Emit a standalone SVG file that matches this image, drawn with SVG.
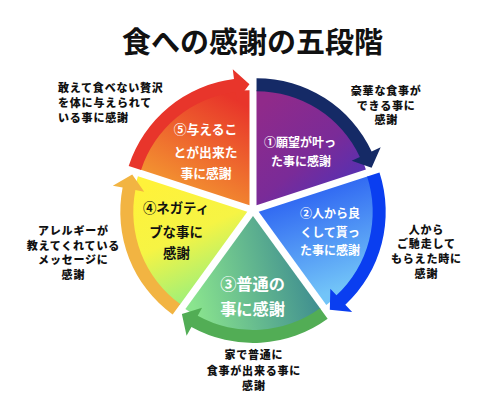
<svg xmlns="http://www.w3.org/2000/svg" width="500" height="401" viewBox="0 0 500 401">
<style>
.t{font-family:"Noto Sans CJK JP","Noto Sans CJK SC",sans-serif;font-weight:700;text-anchor:middle}
.o{font-size:11px;letter-spacing:0.8px;fill:#111;font-weight:900}
.w{fill:#fff}
.title{font-size:29px;fill:#111}
</style>
<defs>
<linearGradient id="g1" x1="0.2" y1="0" x2="1" y2="1"><stop offset="0" stop-color="#902a8a"/><stop offset="0.5" stop-color="#7a2b98"/><stop offset="1" stop-color="#4433c0"/></linearGradient>
<linearGradient id="g2" x1="0" y1="0" x2="0.3" y2="1"><stop offset="0" stop-color="#1c4cf0"/><stop offset="1" stop-color="#72c4f8"/></linearGradient>
<linearGradient id="g3" x1="0" y1="0.5" x2="1" y2="0.3"><stop offset="0" stop-color="#8ae48e"/><stop offset="1" stop-color="#378590"/></linearGradient>
<linearGradient id="g4" x1="0.3" y1="0" x2="0.7" y2="1"><stop offset="0" stop-color="#fff23a"/><stop offset="0.45" stop-color="#f6f444"/><stop offset="1" stop-color="#8cef84"/></linearGradient>
<linearGradient id="g5" x1="0.7" y1="0" x2="0.2" y2="1"><stop offset="0" stop-color="#e8352a"/><stop offset="1" stop-color="#f5a532"/></linearGradient>
</defs>
<rect width="500" height="401" fill="#fff"/>
<text class="t title" x="252.5" y="53">食への感謝の五段階</text>

<g id="seg1">
<g transform="translate(256.53,205.15)">
<path d="M0,0 L0,-115 A115,115 0 0 1 109.37,-35.54 Z" fill="url(#g1)"/>
<path d="M0,-127 A127,127 0 0 1 115.10,-53.67 L124.16,-57.90 L115.08,-37.39 L95.16,-44.38 L103.32,-48.18 A114,114 0 0 0 0,-114 Z" fill="#152a66"/>
</g>
<text class="t w" font-size="12"><tspan x="300" y="146.8">①願望が叶っ</tspan><tspan x="301" y="166.3">た事に感謝</tspan></text>
</g>

<g id="seg2">
<g transform="translate(258.71,211.85)">
<path d="M0,0 L109.37,-35.54 A115,115 0 0 1 67.60,93.04 Z" fill="url(#g2)"/>
<path d="M120.78,-39.25 A127,127 0 0 1 86.61,92.88 L93.43,100.19 L71.12,97.89 L71.61,76.79 L77.75,83.37 A114,114 0 0 0 108.42,-35.23 Z" fill="#0a3ef0"/>
</g>
<text class="t w" font-size="12"><tspan x="330" y="217.5">②人から良</tspan><tspan x="330" y="236.5">くして貰っ</tspan><tspan x="330" y="255">た事に感謝</tspan></text>
</g>

<g id="seg3">
<g transform="translate(253,216)">
<path d="M0,0 L67.60,93.04 A115,115 0 0 1 -67.60,93.04 Z" fill="url(#g3)"/>
<path d="M74.65,102.75 A127,127 0 0 1 -61.57,111.08 L-66.42,119.82 L-71.12,97.89 L-50.91,91.84 L-55.27,99.71 A114,114 0 0 0 67.01,92.23 Z" fill="#52ad55"/>
</g>
<text class="t w" font-size="16.2"><tspan x="252.5" y="289.5">③普通の</tspan><tspan x="252.5" y="314.5">事に感謝</tspan></text>
</g>

<g id="seg4">
<g transform="translate(247.29,211.85)">
<path d="M0,0 L-67.60,93.04 A115,115 0 0 1 -109.37,-35.54 Z" fill="url(#g4)"/>
<path d="M-74.65,102.75 A127,127 0 0 1 -124.67,-24.23 L-134.48,-26.14 L-115.08,-37.39 L-103.07,-20.04 L-111.91,-21.75 A114,114 0 0 0 -67.01,92.23 Z" fill="#f2b442"/>
</g>
<text class="t" fill="#111" font-size="13.4"><tspan x="176" y="213">④ネガティ</tspan><tspan x="176" y="236.5">ブな事に</tspan><tspan x="176.5" y="258">感謝</tspan></text>
</g>

<g id="seg5">
<g transform="translate(249.47,205.15)">
<path d="M0,0 L-109.37,-35.54 A115,115 0 0 1 0,-115 Z" fill="url(#g5)"/>
<path d="M-120.78,-39.25 A127,127 0 0 1 -15.48,-126.05 L-16.70,-135.98 L0,-121 L-12.80,-104.22 L-13.89,-113.15 A114,114 0 0 0 -108.42,-35.23 Z" fill="#e8352b"/>
</g>
<text class="t w" font-size="12.8"><tspan x="205.5" y="134">⑤与えるこ</tspan><tspan x="205.5" y="156.5">とが出来た</tspan><tspan x="206" y="178">事に感謝</tspan></text>
</g>

<g id="note-top-left">
<text class="t o" style="text-anchor:start"><tspan x="58" y="92.3">敢えて食べない贅沢</tspan><tspan x="58" y="107">を体に与えられて</tspan><tspan x="58" y="121.7">いる事に感謝</tspan></text>
</g>
<g id="note-top-right">
<text class="t o"><tspan x="386.2" y="94.9">豪華な食事が</tspan><tspan x="386.2" y="109.6">できる事に</tspan><tspan x="386.2" y="124.3">感謝</tspan></text>
</g>
<g id="note-right">
<text class="t o"><tspan x="426.4" y="233.7">人から</tspan><tspan x="426.4" y="248.4">ご馳走して</tspan><tspan x="426.4" y="263.1">もらえた時に</tspan><tspan x="426.4" y="277.8">感謝</tspan></text>
</g>
<g id="note-left">
<text class="t o"><tspan x="73.4" y="235">アレルギーが</tspan><tspan x="73.4" y="249.7">教えてくれている</tspan><tspan x="73.4" y="264.4">メッセージに</tspan><tspan x="73.4" y="279.1">感謝</tspan></text>
</g>
<g id="note-bottom">
<text class="t o"><tspan x="253.9" y="358.7">家で普通に</tspan><tspan x="253.9" y="374.5">食事が出来る事に</tspan><tspan x="253.9" y="390.2">感謝</tspan></text>
</g>
<g id="connectors"></g>
</svg>
